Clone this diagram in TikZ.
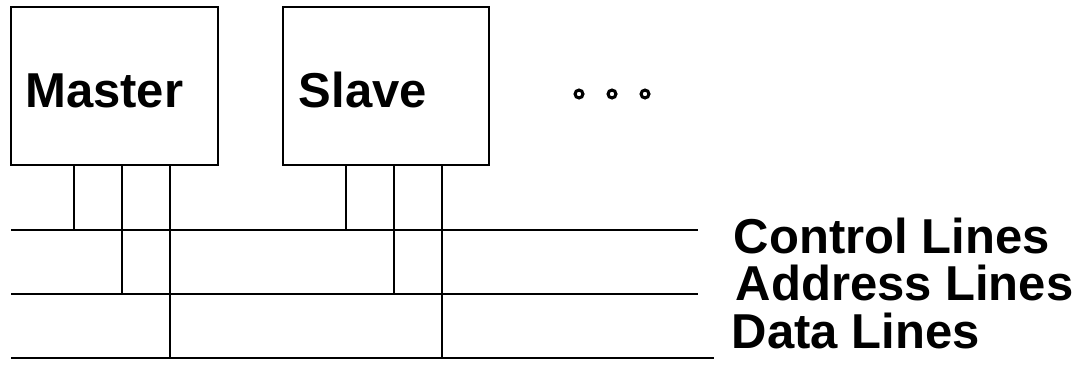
\documentclass[tikz,border=0pt]{standalone}
\usepackage{fontspec}
\setmainfont{Liberation Sans}
\usetikzlibrary{positioning,calc}

\begin{document}
\begin{tikzpicture}[
  x=1pt, y=-1pt,
  line width=1.5pt,
  font=\fontsize{49}{56}\selectfont\bfseries,
  unitbox/.style={draw, rectangle, minimum height=158pt, inner sep=0pt, outer sep=0pt, anchor=north west},
  boxname/.style={anchor=base west, inner sep=0pt},
  busname/.style={anchor=base west, inner sep=0pt},
  moredot/.style={fill=black, even odd rule},
]
\useasboundingbox (0,0) rectangle (1079,381);

% ---------- units on the bus ----------
\node[unitbox, minimum width=207pt] (master) at (11,7) {};
\node[unitbox, minimum width=206pt] (slave) at (283,7) {};
\node[boxname] (master-name) at (24.5,107) {Master};
\node[boxname] (slave-name) at (298,107) {Slave};

\foreach \cx [count=\i] in {579,612,645} {
  \coordinate (dot\i) at (\cx,94);
  \fill[moredot] (dot\i) circle (5.6) circle (2.3);
}

% ---------- bus lines ----------
\coordinate (ctl-w) at (11,230);  \coordinate (ctl-e) at (698,230);
\coordinate (addr-w) at (11,294); \coordinate (addr-e) at (698,294);
\coordinate (data-w) at (11,358); \coordinate (data-e) at (714,358);
\draw (ctl-w) -- (ctl-e);
\draw (addr-w) -- (addr-e);
\draw (data-w) -- (data-e);

\node[busname] (ctl-name) at (733,253) {Control Lines};
\node[busname] (addr-name) at (735,300) {Address Lines};
\node[busname] (data-name) at (731,348) {Data Lines};

% ---------- stubs, 48 pt apart ----------
\foreach \dx/\bus [count=\i] in {63/ctl, 111/addr, 159/data} {
  \coordinate (m\i) at ([xshift=\dx pt]master.south west);
  \coordinate (s\i) at ([xshift=\dx pt]slave.south west);
  \draw (m\i) -- (m\i |- \bus-w);
  \draw (s\i) -- (s\i |- \bus-w);
}
\end{tikzpicture}
\end{document}
